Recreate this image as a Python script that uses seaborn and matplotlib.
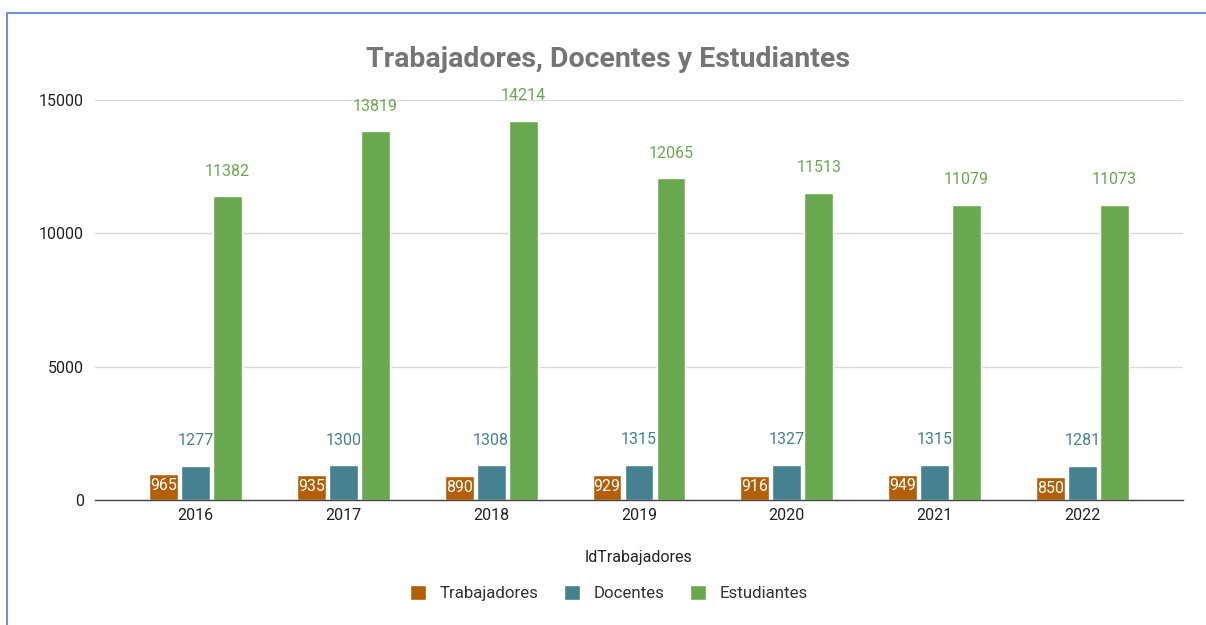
import pandas as pd
import matplotlib
matplotlib.use("Agg")
import matplotlib.pyplot as plt
import seaborn as sns
from matplotlib.patches import Rectangle

# --- DATA ---
years = ["2016", "2017", "2018", "2019", "2020", "2021", "2022"]
trabajadores = [965, 935, 890, 929, 916, 949, 850]
docentes = [1277, 1300, 1308, 1315, 1327, 1315, 1281]
estudiantes = [11382, 13819, 14214, 12065, 11513, 11079, 11073]
series_names = ["Trabajadores", "Docentes", "Estudiantes"]
colors = ["#b45f06", "#45818e", "#6aa84f"]
y_ticks = [0, 5000, 10000, 15000]

df = pd.DataFrame({
    "IdTrabajadores": years * 3,
    "valor": trabajadores + docentes + estudiantes,
    "serie": [s for s in series_names for _ in years],
})

sns.set_theme(style="white")
plt.rcParams["font.family"] = ["Roboto", "DejaVu Sans"]

fig = plt.figure(figsize=(12.06, 6.25), dpi=100)
ax = fig.add_axes([0.0788, 0.2, 0.902, 0.64])

sns.barplot(data=df, x="IdTrabajadores", y="valor", hue="serie",
            hue_order=series_names, palette=colors, width=0.65, gap=0.1,
            saturation=1, ax=ax, legend=True)

ax.set_ylim(0, 15000)
ax.set_xlim(-0.68, 6.68)
ax.set_yticks(y_ticks)
ax.set_yticklabels([str(t) for t in y_ticks], fontsize=11.5, color="#222222")
ax.tick_params(axis="x", labelsize=11.5, colors="#222222", length=0, pad=6)
ax.tick_params(axis="y", length=0, pad=8)
ax.yaxis.grid(True, color="#d9d9d9", linewidth=1)
ax.set_axisbelow(True)
for side in ["left", "right", "top"]:
    ax.spines[side].set_visible(False)
ax.spines["bottom"].set_color("#444444")
ax.spines["bottom"].set_linewidth(1)

ax.set_ylabel("")
ax.set_xlabel("IdTrabajadores", fontsize=11.5, color="#222222", labelpad=19)

# data labels
for i, cont in enumerate(ax.containers):
    for bar in cont:
        h = bar.get_height()
        x = bar.get_x() + bar.get_width() / 2
        if i == 0:
            ax.annotate(f"{int(h)}", (x, h), xytext=(0, -8), textcoords="offset points",
                        ha="center", va="center", color="white", fontsize=11.5,
                        annotation_clip=False)
        else:
            ax.annotate(f"{int(h)}", (x, h), xytext=(0, 18), textcoords="offset points",
                        ha="center", va="center", color=colors[i], fontsize=11.5,
                        annotation_clip=False)

ax.set_title("Trabajadores, Docentes y Estudiantes", fontsize=20.5, fontweight="bold",
             color="#757575", pad=24, x=0.472)

handles, labels = ax.get_legend_handles_labels()
ax.legend(handles, labels, loc="center", bbox_to_anchor=(609 / 1206, 1 - 593 / 625),
          bbox_transform=fig.transFigure, ncol=3, frameon=False, fontsize=12.2,
          handlelength=0.95, handleheight=0.95, columnspacing=1.5, handletextpad=0.8,
          labelcolor="#333333")

fig.patches.append(Rectangle((7 / 1206, -0.05), 1.1, 1.05 - 13 / 625,
                             transform=fig.transFigure, fill=False,
                             edgecolor="#6d95cf", linewidth=1.5, figure=fig))

fig.savefig("out.png", dpi=100)
